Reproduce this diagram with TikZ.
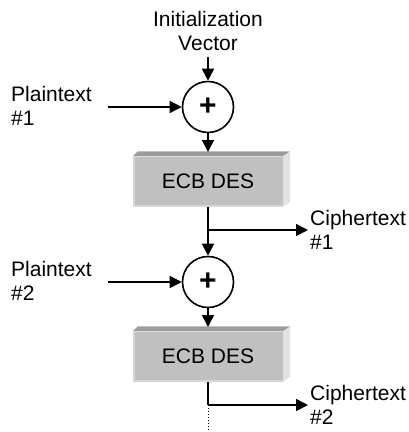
\documentclass[tikz,border=0pt]{standalone}
\usepackage{fontspec}
\setmainfont{Liberation Sans}
\usetikzlibrary{arrows.meta}
\definecolor{boxfront}{HTML}{C0C0C0}
\definecolor{boxtop}{HTML}{9C9C9C}
\definecolor{boxside}{HTML}{E2E2E2}
\definecolor{boxhl}{HTML}{D6D6D6}
\begin{document}
\begin{tikzpicture}[x=1pt,y=-1pt,
  lbl/.style={font=\fontsize{21}{24}\selectfont, inner sep=0pt, align=left},
  xorbox/.style={circle, draw, line width=1.6pt, minimum size=51pt, inner sep=0pt, font=\fontsize{30}{30}\selectfont\bfseries, fill=white},
  desbox/.style={rectangle, fill=boxfront, minimum width=150pt, minimum height=50pt, inner sep=0pt, font=\fontsize{21}{24}\selectfont},
  flow/.style={line width=1.6pt, -{Triangle[length=12pt,width=12pt]}},
  wire/.style={line width=1.6pt}
]
\useasboundingbox (0,0) rectangle (409,432);

% Initialization vector
\node[lbl, align=center, anchor=south] (iv) at (208,51) {Initialization\\Vector};
\coordinate (ivs) at (208,57);

% first stage
\node[xorbox] (x1) at (208,107) {\raisebox{-3pt}{+}};
\node[lbl, anchor=north west] (p1) at (11,86) {Plaintext\\\#1};
\coordinate (p1s) at (108,107);
\node[desbox] (d1) at (208,181.5) {ECB DES};
\coordinate (b1) at (208,230);
\coordinate (c1e) at (308,230);
\node[lbl, anchor=north west] (c1) at (310,210) {Ciphertext\\\#1};

% second stage
\node[xorbox] (x2) at (208,282) {\raisebox{-3pt}{+}};
\node[lbl, anchor=north west] (p2) at (11,261) {Plaintext\\\#2};
\coordinate (p2s) at (108,282);
\node[desbox] (d2) at (208,356.5) {ECB DES};
\coordinate (b2) at (208,405);
\coordinate (c2e) at (308,405);
\node[lbl, anchor=north west] (c2) at (310,385) {Ciphertext\\\#2};
\coordinate (dend) at (208,432);

% 3D bevels of the boxes
\foreach \b in {d1,d2}{
  \fill[boxtop] (\b.north west) -- ([xshift=5pt,yshift=5pt]\b.north west) -- ([xshift=7pt,yshift=5pt]\b.north east) -- (\b.north east) -- cycle;
  \fill[boxside] (\b.north east) -- ([xshift=7pt,yshift=5pt]\b.north east) -- ([xshift=7pt,yshift=5pt]\b.south east) -- (\b.south east) -- cycle;
  \fill[boxhl] (\b.north west) rectangle ([xshift=2pt]\b.south west);
  \fill[boxhl] ([yshift=2pt]\b.south west) rectangle (\b.south east);
}

% connectors
\draw[flow] (ivs) -- (x1);
\draw[flow] (p1s) -- (x1);
\draw[flow] (x1) -- (d1.north |- 0,152);
\draw[wire] (d1.south) -- (b1);
\draw[flow] (b1) -- (c1e);
\draw[flow] (b1) -- (x2);
\draw[flow] (p2s) -- (x2);
\draw[flow] (x2) -- (d2.north |- 0,327);
\draw[wire] (d2.south) -- (b2);
\draw[flow] (b2) -- (c2e);
\draw[line width=1pt, dotted] (b2) -- (dend);
\end{tikzpicture}
\end{document}
